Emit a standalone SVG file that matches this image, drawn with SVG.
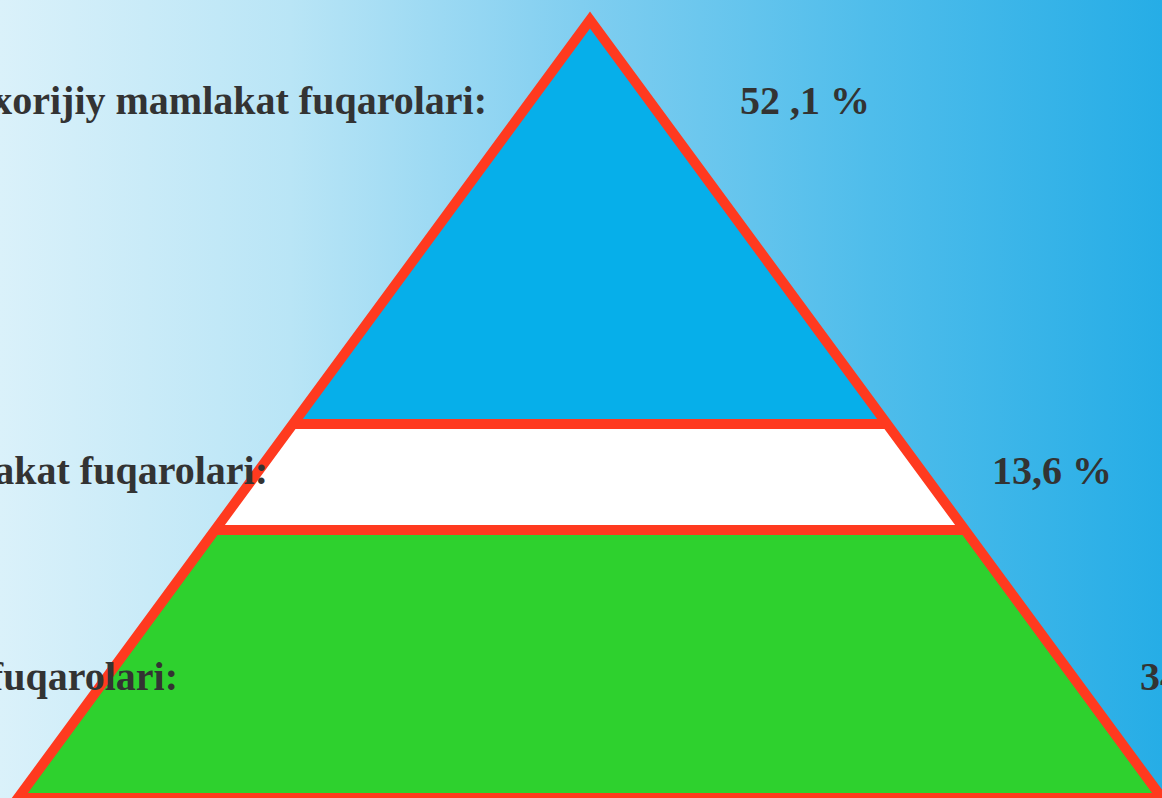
<svg xmlns="http://www.w3.org/2000/svg" width="1162" height="798" viewBox="0 0 1162 798">
<defs>
<linearGradient id="bg" x1="0" y1="0" x2="1" y2="0">
<stop offset="0" stop-color="#daf1fa"/>
<stop offset="0.25" stop-color="#b9e5f6"/>
<stop offset="0.5" stop-color="#80cef0"/>
<stop offset="0.75" stop-color="#4fbdeb"/>
<stop offset="1" stop-color="#26ade6"/>
</linearGradient>
<style>
.lbl{font-family:"Liberation Serif","Times New Roman",serif;font-weight:bold;font-size:40px;fill:#333333}
.edge{fill:none;stroke:#ff3a1f;stroke-width:10;stroke-linejoin:miter;stroke-miterlimit:10}
</style>
</defs>
<rect width="1162" height="798" fill="url(#bg)"/>
<g id="band-top"><polygon points="590,20 293,424 887,424" fill="#06afea"/></g>
<g id="band-middle"><polygon points="293,424 887,424 965,530 215,530" fill="#ffffff"/></g>
<g id="band-bottom"><polygon points="215,530 965,530 1162,798 18,798" fill="#2ed12e"/></g>
<g id="connectors">
<polygon class="edge" points="590,20 1162,798 18,798"/>
<line class="edge" x1="293" y1="424" x2="887" y2="424"/>
<line class="edge" x1="215" y1="530" x2="965" y2="530"/>
</g>
<g id="label-top">
<text class="lbl" x="487" y="114" text-anchor="end">xorijiy mamlakat fuqarolari:</text>
<text class="lbl" x="740" y="114">52 ,1 %</text>
</g>
<g id="label-middle">
<text class="lbl" x="268" y="484" text-anchor="end">akat fuqarolari:</text>
<text class="lbl" x="992" y="484">13,6 %</text>
</g>
<g id="label-bottom">
<text class="lbl" x="178" y="690" text-anchor="end">fuqarolari:</text>
<text class="lbl" x="1140" y="690">34,3 %</text>
</g>
</svg>
